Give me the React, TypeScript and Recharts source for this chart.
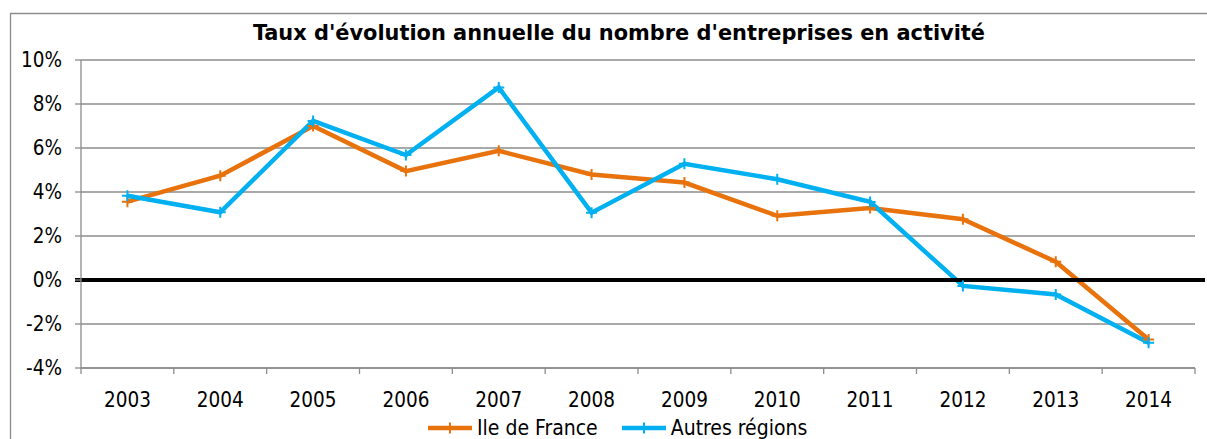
import React from 'react';
import { LineChart, Line, XAxis, YAxis, CartesianGrid, ReferenceLine, Legend } from 'recharts';

const years = ['2003', '2004', '2005', '2006', '2007', '2008', '2009', '2010', '2011', '2012', '2013', '2014'];
const ileDeFrance = [3.56, 4.74, 7.0, 4.95, 5.87, 4.8, 4.43, 2.92, 3.27, 2.76, 0.83, -2.7];
const autresRegions = [3.83, 3.08, 7.23, 5.68, 8.75, 3.06, 5.28, 4.58, 3.55, -0.27, -0.66, -2.85];
const yTicks = [-4, -2, 0, 2, 4, 6, 8, 10];
const seriesNames = ['Ile de France', 'Autres régions'];
const title = "Taux d'évolution annuelle du nombre d'entreprises en activité";

const ORANGE = '#E8720C';
const BLUE = '#00B0F0';
const GRID = '#8c8c8c';
const FONT = "'DejaVu Sans Condensed', 'Liberation Sans', sans-serif";

const data = years.map((y, i) => ({ x: i + 0.5, year: y, idf: ileDeFrance[i], autres: autresRegions[i] }));
const xTicks: number[] = [];
years.forEach((_, i) => { xTicks.push(i); xTicks.push(i + 0.5); });
xTicks.push(years.length);

const PlusDot = (color: string) => (props: any) => {
  const { cx, cy } = props;
  if (cx == null || cy == null) return null;
  const s = 5.5;
  return (
    <path
      key={`${cx}-${cy}`}
      d={`M${cx - s},${cy}H${cx + s}M${cx},${cy - s}V${cy + s}`}
      stroke={color}
      strokeWidth={2}
      fill="none"
    />
  );
};

const XTick = (props: any) => {
  const { x, y, payload } = props;
  const v = payload.value as number;
  if (Number.isInteger(v)) {
    return <line x1={x} x2={x} y1={y} y2={y + 6} stroke={GRID} strokeWidth={1.3} />;
  }
  return (
    <text x={x} y={y + 39} textAnchor="middle" fontSize={20.5} fontFamily={FONT} fill="#000">
      {years[Math.floor(v)]}
    </text>
  );
};

const ZeroLine = (props: any) => {
  const { x1, x2, y1 } = props;
  if (x1 == null) return null;
  return <line x1={x1 - 6} x2={x2 + 10} y1={y1} y2={y1} stroke="#000" strokeWidth={4} />;
};

const LegendContent = () => {
  const items = [
    { name: seriesNames[0], color: ORANGE },
    { name: seriesNames[1], color: BLUE },
  ];
  return (
    <div style={{ height: 22, display: 'flex', alignItems: 'center', paddingLeft: 407, fontFamily: FONT, fontSize: 21, color: '#000' }}>
      {items.map((it, i) => (
        <div key={it.name} style={{ display: 'flex', alignItems: 'center', marginRight: i === 0 ? 24 : 0 }}>
          <svg width={44} height={20} style={{ marginRight: 5 }}>
            <line x1={0} x2={44} y1={10} y2={10} stroke={it.color} strokeWidth={4.5} />
            <path d="M16.5,10H27.5M22,4.5V15.5" stroke={it.color} strokeWidth={2} />
          </svg>
          <span style={{ lineHeight: '22px' }}>{it.name}</span>
        </div>
      ))}
    </div>
  );
};

export default function App() {
  return (
    <div style={{ position: 'absolute', left: 0, top: 0, width: 1207, height: 439, background: '#fff', overflow: 'hidden' }}>
      <svg width={1207} height={439} style={{ position: 'absolute', left: 0, top: 0 }}>
        <path d="M10.5,460V13.5H1220" stroke="#8c8c8c" strokeWidth={1.3} fill="none" />
        <text
          x={619}
          y={40}
          textAnchor="middle"
          fontSize={22}
          fontWeight="bold"
          fontFamily={FONT}
          fill="#000"
          textLength={732}
          lengthAdjust="spacingAndGlyphs"
        >
          {title}
        </text>
      </svg>
      <div style={{ position: 'absolute', left: 0, top: 0 }}>
        <LineChart width={1207} height={439} data={data} margin={{ top: 60, right: 12, bottom: 0, left: 21 }}>
          <CartesianGrid vertical={false} stroke={GRID} strokeWidth={1.3} />
          <XAxis
            dataKey="x"
            type="number"
            domain={[0, years.length]}
            ticks={xTicks}
            interval={0}
            tickSize={0}
            tickMargin={0}
            tickLine={false}
            height={49}
            axisLine={{ stroke: GRID, strokeWidth: 1.3 }}
            tick={<XTick />}
          />
          <YAxis
            type="number"
            domain={[-4, 10]}
            ticks={yTicks}
            interval={0}
            width={60}
            tickSize={6}
            tickMargin={13}
            tickFormatter={(v: number) => `${v}%`}
            tick={{ fontSize: 20.5, fontFamily: FONT, fill: '#000' }}
            tickLine={{ stroke: GRID, strokeWidth: 1.3 }}
            axisLine={{ stroke: GRID, strokeWidth: 1.3 }}
          />
          <Line
            dataKey="idf"
            name={seriesNames[0]}
            stroke={ORANGE}
            strokeWidth={4.5}
            dot={PlusDot(ORANGE)}
            activeDot={false}
            isAnimationActive={false}
          />
          <Line
            dataKey="autres"
            name={seriesNames[1]}
            stroke={BLUE}
            strokeWidth={4.5}
            dot={PlusDot(BLUE)}
            activeDot={false}
            isAnimationActive={false}
          />
          <ReferenceLine y={0} shape={<ZeroLine />} />
          <Legend verticalAlign="bottom" content={<LegendContent />} />
        </LineChart>
      </div>
    </div>
  );
}
